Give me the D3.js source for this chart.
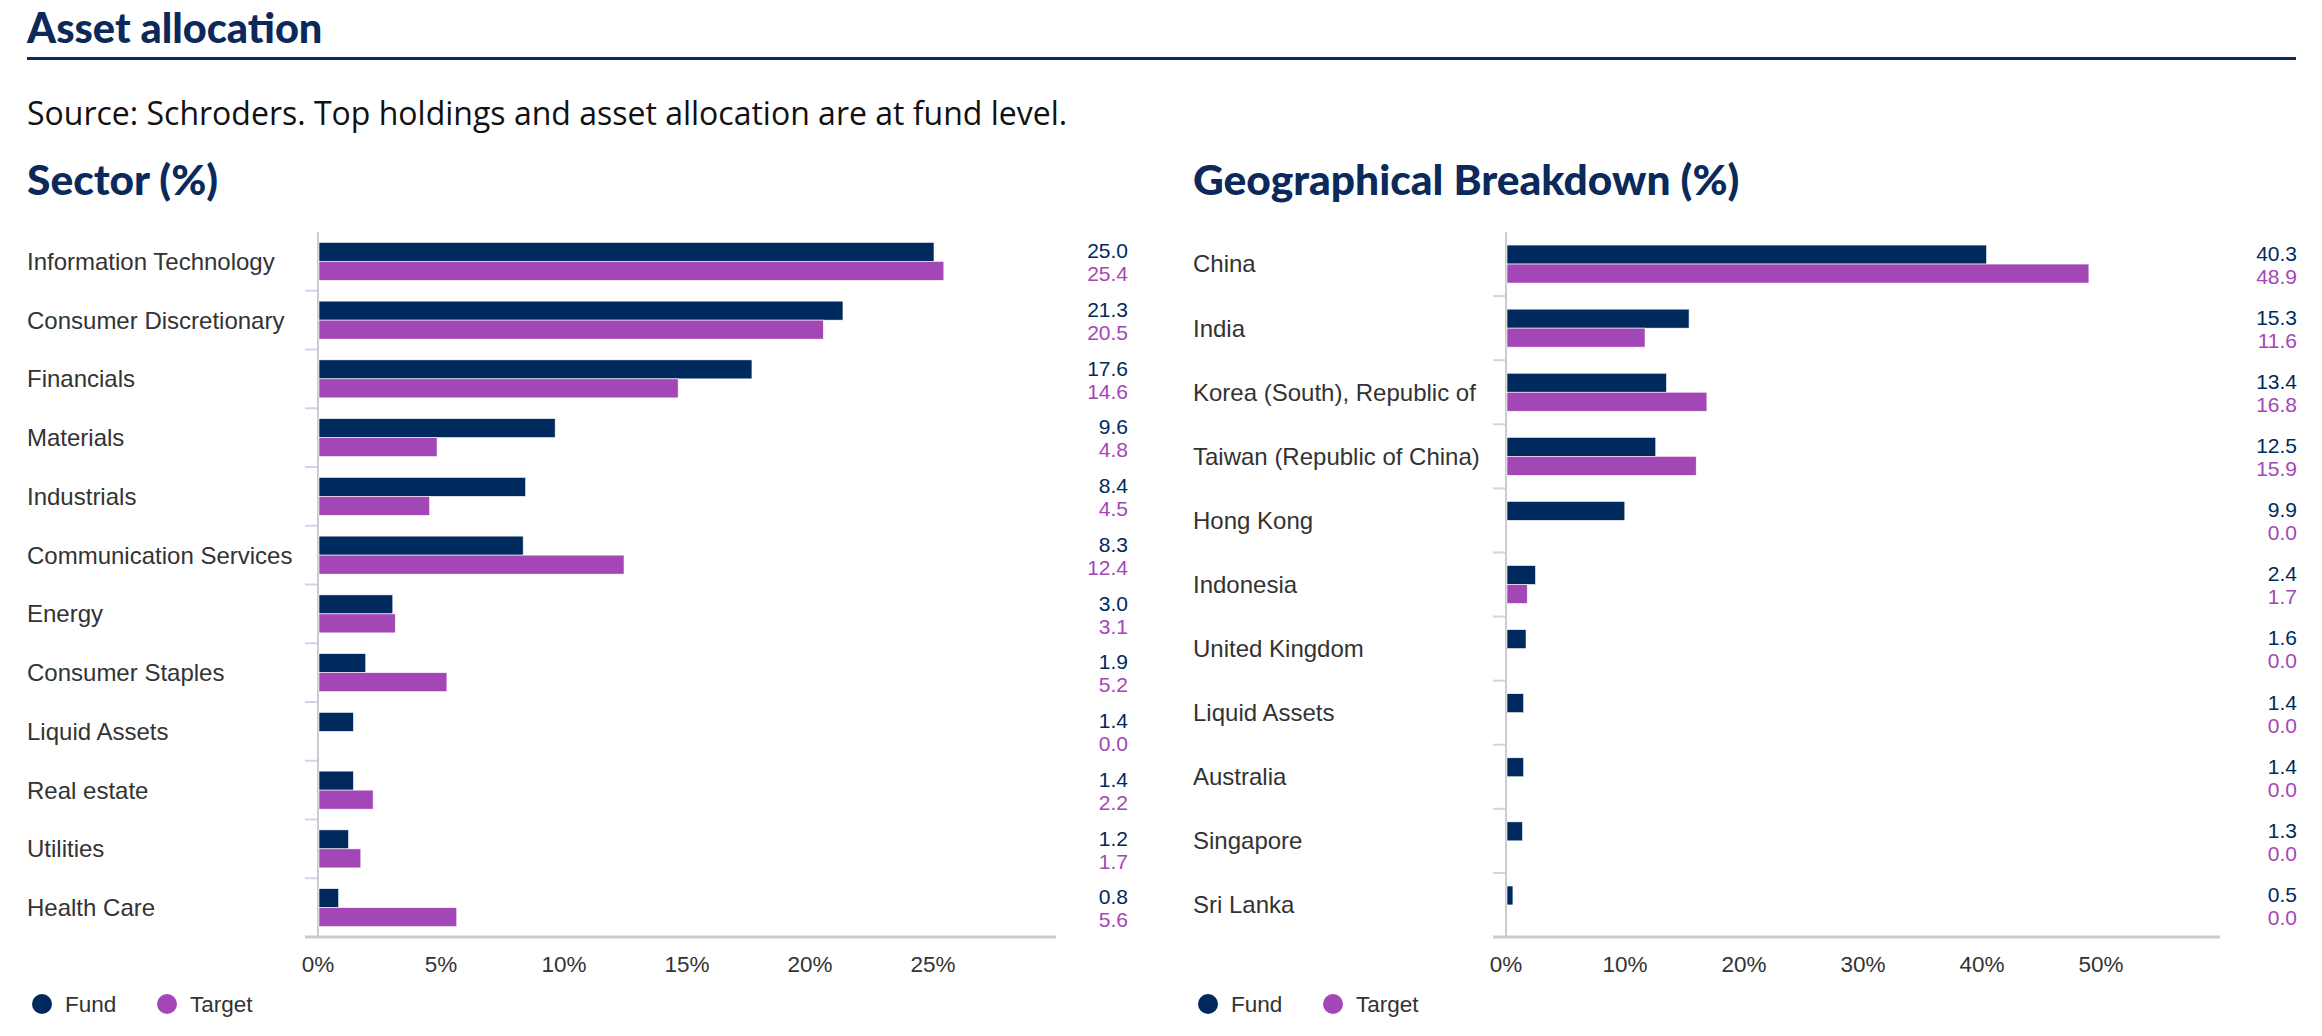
<!DOCTYPE html>
<html>
<head>
<meta charset="utf-8">
<script src="https://cdn.jsdelivr.net/npm/d3@7"></script>
<style>
  body { margin: 0; background: #fff; }
  svg text { font-family: "Liberation Sans", Arial, sans-serif; }
</style>
</head>
<body>
<div id="chart"></div>
<script>
// data
const seriesNames = ["Fund", "Target"];
const seriesColors = ["#002a5e", "#a247b5"];

const sectorNames = ["Information Technology", "Consumer Discretionary", "Financials", "Materials",
  "Industrials", "Communication Services", "Energy", "Consumer Staples", "Liquid Assets",
  "Real estate", "Utilities", "Health Care"];
const sectorFund   = [25.0, 21.3, 17.6, 9.6, 8.4, 8.3, 3.0, 1.9, 1.4, 1.4, 1.2, 0.8];
const sectorTarget = [25.4, 20.5, 14.6, 4.8, 4.5, 12.4, 3.1, 5.2, 0.0, 2.2, 1.7, 5.6];
const sectorTicks  = [0, 5, 10, 15, 20, 25];

const geoNames = ["China", "India", "Korea (South), Republic of", "Taiwan (Republic of China)",
  "Hong Kong", "Indonesia", "United Kingdom", "Liquid Assets", "Australia", "Singapore", "Sri Lanka"];
const geoFund   = [40.3, 15.3, 13.4, 12.5, 9.9, 2.4, 1.6, 1.4, 1.4, 1.3, 0.5];
const geoTarget = [48.9, 11.6, 16.8, 15.9, 0.0, 1.7, 0.0, 0.0, 0.0, 0.0, 0.0];
const geoTicks  = [0, 10, 20, 30, 40, 50];

let width = 2322,
    height = 1036;
let svg = d3.select("div#chart").append("svg")
            .attr("width", width)
            .attr("height", height);

// header
svg.append("text")
  .attr("x", 27).attr("y", 43)
  .style("font-family", "Lato, sans-serif")
  .style("font-weight", "900")
  .style("font-size", "41.5px")
  .style("fill", "#0b2a5b")
  .text("Asset allocation");
svg.append("rect")
  .attr("x", 27).attr("y", 57)
  .attr("width", 2269).attr("height", 3)
  .style("fill", "#0b2a5b");
svg.append("text")
  .attr("x", 27).attr("y", 125)
  .style("font-family", "'Open Sans', sans-serif")
  .style("font-size", "32px")
  .style("fill", "#111")
  .text("Source: Schroders. Top holdings and asset allocation are at fund level.");

function barChart(title, titleX, names, fund, target, ticks, max, left, right, valueX) {
  let top = 232, bottom = 937;
  let fmt = d3.format(".1f");

  svg.append("text")
    .attr("x", titleX).attr("y", 195)
    .style("font-family", "Lato, sans-serif")
    .style("font-weight", "900")
    .style("font-size", "42.5px")
    .style("fill", "#0b2a5b")
    .text(title);

  let y = d3.scaleBand().domain(names).range([top, bottom]);
  let inner = d3.scaleBand().domain(seriesNames).range([0, 38]);
  let x = d3.scaleLinear().domain([0, max]).range([left, right]);
  let off = (y.bandwidth() - 38) / 2;

  let g = svg.append("g");

  // category tick marks between bands
  g.selectAll("line.cat")
    .data(names)
    .enter().append("line")
    .attr("class", "cat")
    .attr("x1", left - 13).attr("x2", left)
    .attr("y1", d => y(d) + y.bandwidth())
    .attr("y2", d => y(d) + y.bandwidth())
    .style("stroke", "#ccd6eb")
    .style("stroke-width", 2);

  // axis lines
  g.append("line")
    .attr("x1", left).attr("x2", left)
    .attr("y1", top).attr("y2", bottom)
    .style("stroke", "#cccccc").style("stroke-width", 2);
  g.append("line")
    .attr("x1", left - 13).attr("x2", right)
    .attr("y1", bottom).attr("y2", bottom)
    .style("stroke", "#cccccc").style("stroke-width", 3);

  // category labels
  g.selectAll("text.cat")
    .data(names)
    .enter().append("text")
    .attr("class", "cat")
    .attr("x", titleX)
    .attr("y", d => y(d) + y.bandwidth() / 2)
    .attr("dy", "0.35em")
    .style("font-size", "24px")
    .style("fill", "#333")
    .text(d => d);

  // bars
  let rows = names.map((n, i) => ({name: n, vals: [fund[i], target[i]]}));
  let row = g.selectAll("g.row")
    .data(rows)
    .enter().append("g")
    .attr("transform", d => "translate(0," + (y(d.name) + off) + ")");
  row.selectAll("rect")
    .data(d => d.vals.map((v, k) => ({key: seriesNames[k], value: v, color: seriesColors[k]})))
    .enter().append("rect")
    .attr("x", x(0) + 1)
    .attr("y", d => inner(d.key))
    .attr("height", inner.bandwidth())
    .attr("width", d => Math.max(0, x(d.value) - x(0)))
    .style("fill", d => d.color)
    .style("stroke", "#fff")
    .style("stroke-width", 0.6);

  // value column
  row.selectAll("text")
    .data(d => d.vals.map((v, k) => ({key: seriesNames[k], value: v, color: seriesColors[k]})))
    .enter().append("text")
    .attr("x", valueX)
    .attr("y", d => inner(d.key) + inner.bandwidth() / 2 + (d.key === "Fund" ? -1 : 3))
    .attr("dy", "0.35em")
    .attr("text-anchor", "end")
    .style("font-size", "21px")
    .style("fill", d => d.color)
    .text(d => fmt(d.value));

  // x tick labels
  g.selectAll("text.tick")
    .data(ticks)
    .enter().append("text")
    .attr("class", "tick")
    .attr("x", d => x(d))
    .attr("y", 972)
    .attr("text-anchor", "middle")
    .style("font-size", "22.5px")
    .style("fill", "#333")
    .text(d => d + "%");

  // legend
  let lx = [titleX + 15, titleX + 140];
  seriesNames.forEach((s, k) => {
    g.append("circle")
      .attr("cx", lx[k]).attr("cy", 1004).attr("r", 10)
      .style("fill", seriesColors[k]);
    g.append("text")
      .attr("x", lx[k] + 23).attr("y", 1004)
      .attr("dy", "0.35em")
      .style("font-size", "22.5px")
      .style("fill", "#333")
      .text(s);
  });
}

barChart("Sector (%)", 27, sectorNames, sectorFund, sectorTarget, sectorTicks, 30, 318, 1056, 1128);
barChart("Geographical Breakdown (%)", 1193, geoNames, geoFund, geoTarget, geoTicks, 60, 1506, 2220, 2297);
</script>
</body>
</html>
